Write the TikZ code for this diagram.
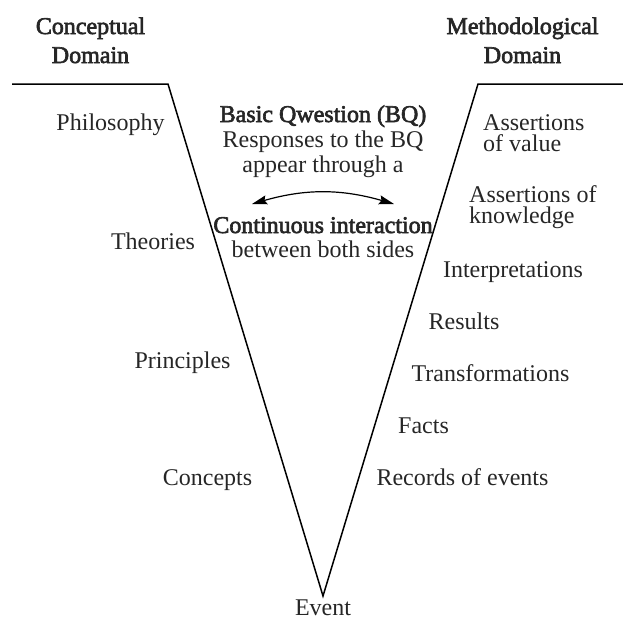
\documentclass[tikz,border=0pt]{standalone}
\usepackage{fontspec}
\usepackage{xcolor}
\setmainfont{Liberation Serif}
\newfontfamily\heavyfont{Liberation Serif}[FakeBold=2.6]
\usetikzlibrary{arrows.meta}
\definecolor{v text}{HTML}{262626}
\colorlet{v edge}{black}
\def\termsize{\fontsize{24}{25}\selectfont}
\tikzset{term/.style={text=v text, font=\termsize, inner sep=0pt, anchor=base},
    heading/.style={term, align=center, font=\heavyfont\fontsize{24}{29}\selectfont},
    keyword/.style={term, font=\heavyfont\termsize},
    claim/.style={term, anchor=base west, align=left, font=\fontsize{24}{21}\selectfont},
    vline/.style={draw=v edge, line width=1.5pt, line join=miter}}

\begin{document}
\begin{tikzpicture}[x=1pt,y=-1pt]
    \useasboundingbox (0,0) rectangle (623,619);
    % the V
    \coordinate (lend)  at (12,84);
    \coordinate (ltop)  at (168,84);
    \coordinate (tip)   at (323,596);
    \coordinate (rtop)  at (478,84);
    \coordinate (rend)  at (623,84);
    \draw[vline] (lend) -- (ltop) -- (tip) -- (rtop) -- (rend);
    % headings (base = last line)
    \node[heading] (concept) at (90.5,63) {Conceptual\\Domain};
    \node[heading] (method)  at (522.5,63) {Methodological\\Domain};
    % conceptual side
    \node[term] (philo)  at (110.5,130) {Philosophy};
    \node[term] (theory) at (153,249) {Theories};
    \node[term] (princ)  at (182.5,368) {Principles};
    \node[term] (concs)  at (207.5,485) {Concepts};
    % methodological side
    \node[claim] (value) at (483,151) {Assertions\\of value};
    \node[claim] (know)  at (469,223) {Assertions of\\knowledge};
    \node[term] (interp) at (513,277) {Interpretations};
    \node[term] (result) at (464,329) {Results};
    \node[term] (trans)  at (490.5,381) {Transformations};
    \node[term] (facts)  at (423.5,433) {Facts};
    \node[term] (record) at (462.5,485) {Records of events};
    % inside the V
    \node[keyword] (bq)     at (323,122) {Basic Qwestion (BQ)};
    \node[term]    (resp)   at (323,147) {Responses to the BQ};
    \node[term]    (appear) at (323,172) {appear through a};
    \node[keyword] (contin) at (323,233) {Continuous interaction};
    \node[term]    (both)   at (323,257) {between both sides};
    \coordinate (arrl) at (252,204);
    \coordinate (arrr) at (394,204);
    \draw[v edge, line width=1.2pt, {Stealth[length=15pt,width=9pt,inset=2pt]}-{Stealth[length=15pt,width=9pt,inset=2pt]}]
        (arrl) to[bend left=16] (arrr);
    % bottom
    \node[term] (event) at (323,615) {Event};
\end{tikzpicture}
\end{document}
